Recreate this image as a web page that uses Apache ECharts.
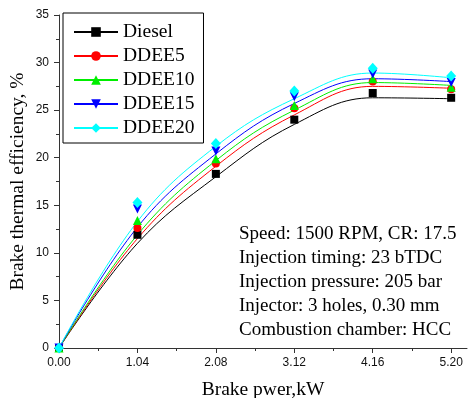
<!DOCTYPE html>
<html>
<head>
<meta charset="utf-8">
<script src="https://cdn.jsdelivr.net/npm/echarts@6/dist/echarts.min.js"></script>
<style>html,body{margin:0;padding:0;background:#fff}#c{width:468px;height:398px}</style>
</head>
<body>
<div id="c"></div>
<script>
// Data
var xValues = [0, 1.04, 2.08, 3.12, 4.16, 5.20];
var seriesNames = ['Diesel', 'DDEE5', 'DDEE10', 'DDEE15', 'DDEE20'];
// measured points (markers)
var diesel = [0, 11.9, 18.3, 24.0, 26.8, 26.3];
var ddee5  = [0, 12.6, 19.4, 25.2, 28.0, 27.2];
var ddee10 = [0, 13.4, 19.9, 25.5, 28.3, 27.4];
var ddee15 = [0, 14.6, 20.7, 26.4, 28.8, 27.9];
var ddee20 = [0, 15.3, 21.5, 27.0, 29.4, 28.6];
// fitted curves at the same x positions
var dieselFit = [0, 11.0, 18.0, 23.5, 26.3, 26.2];
var ddee5Fit  = [0, 11.5, 19.1, 24.5, 27.5, 27.3];
var ddee10Fit = [0, 11.9, 19.7, 25.0, 27.9, 27.6];
var ddee15Fit = [0, 12.7, 20.4, 25.7, 28.3, 28.0];
var ddee20Fit = [0, 13.3, 21.2, 26.2, 28.9, 28.4];
var xMajorTicks = [0, 1.04, 2.08, 3.12, 4.16, 5.20];
var xMinorTicks = [0.52, 1.56, 2.60, 3.64, 4.68];
var noteLines = ['Speed: 1500 RPM, CR: 17.5', 'Injection timing: 23 bTDC', 'Injection pressure: 205 bar', 'Injector: 3 holes, 0.30 mm', 'Combustion chamber: HCC'];

var points = [diesel, ddee5, ddee10, ddee15, ddee20];
var fits = [dieselFit, ddee5Fit, ddee10Fit, ddee15Fit, ddee20Fit];
var colors = ['#000000', '#ff0000', '#00ee00', '#0000ff', '#00ffff'];
var symbols = ['rect', 'circle', 'triangle', 'path://M0,0L10,0L5,10Z', 'diamond'];
var sizes = [8, 8, 9, 9, [10, 11]];

function pairs(arr) { return xValues.map(function (x, i) { return [x, arr[i]]; }); }

var serif = 'Liberation Serif';
var series = [];
seriesNames.forEach(function (n, i) {
  series.push({
    name: n, type: 'line', data: pairs(fits[i]), smooth: 0.4,
    showSymbol: false, symbol: symbols[i], symbolSize: sizes[i],
    lineStyle: { color: colors[i], width: 1 }, itemStyle: { color: colors[i] },
    z: 2, silent: true
  });
});
seriesNames.forEach(function (n, i) {
  series.push({
    name: n, type: 'scatter', data: pairs(points[i]),
    symbol: symbols[i], symbolSize: sizes[i],
    itemStyle: { color: colors[i], opacity: 1 }, z: 3 + i
  });
});

var chart = echarts.init(document.getElementById('c'), null, { renderer: 'canvas' });
chart.setOption({
  animation: false,
  backgroundColor: '#fff',
  grid: { left: 59, right: 1, top: 15, bottom: 50, outerBoundsMode: 'none', containLabel: false },
  legend: {
    data: seriesNames, orient: 'vertical', left: 63, top: 13,
    padding: [9, 9, 5, 10], itemGap: 4, itemWidth: 44, itemHeight: 12,
    backgroundColor: '#fff', borderColor: '#000', borderWidth: 1, borderRadius: 0,
    textStyle: { fontFamily: serif, fontSize: 19.5, color: '#000', lineHeight: 20 },
    selectedMode: false
  },
  xAxis: [{
    type: 'value', min: 0, max: 5.41, interval: 1.04,
    name: 'Brake pwer,kW', nameLocation: 'middle', nameGap: 32, nameMoveOverlap: false,
    nameTextStyle: { fontFamily: serif, fontSize: 19.5, color: '#000' },
    axisLine: { show: true, onZero: false, lineStyle: { color: '#333', width: 1 } },
    axisTick: { show: true, inside: false, length: 5, customValues: xMajorTicks, lineStyle: { color: '#333' } },
    axisLabel: { customValues: xMajorTicks, margin: 9, fontFamily: 'Liberation Sans', fontSize: 12, color: '#111',
      formatter: function (v) { return v.toFixed(2); } },
    splitLine: { show: false }
  }, {
    type: 'value', min: 0, max: 5.41, position: 'bottom',
    axisLine: { show: false },
    axisTick: { show: true, inside: false, length: 3, customValues: xMinorTicks, lineStyle: { color: '#333' } },
    axisLabel: { show: false }, splitLine: { show: false }
  }],
  yAxis: {
    type: 'value', min: 0, max: 35, interval: 5,
    name: 'Brake thermal efficiency, %', nameLocation: 'middle', nameGap: 31, nameMoveOverlap: false,
    nameTextStyle: { fontFamily: serif, fontSize: 19.5, color: '#000' },
    axisLine: { show: true, onZero: false, lineStyle: { color: '#333', width: 1 } },
    axisTick: { show: true, inside: false, length: 5, lineStyle: { color: '#333' } },
    minorTick: { show: true, splitNumber: 2, length: 3, lineStyle: { color: '#333' } },
    axisLabel: { margin: 10, fontFamily: 'Liberation Sans', fontSize: 12, color: '#111' },
    splitLine: { show: false }
  },
  graphic: [{
    type: 'text', left: 239, top: 222,
    style: { text: noteLines.join('\n'), font: '19px "Liberation Serif"', fill: '#000', lineHeight: 24 }
  }],
  series: series
});
</script>
</body>
</html>
